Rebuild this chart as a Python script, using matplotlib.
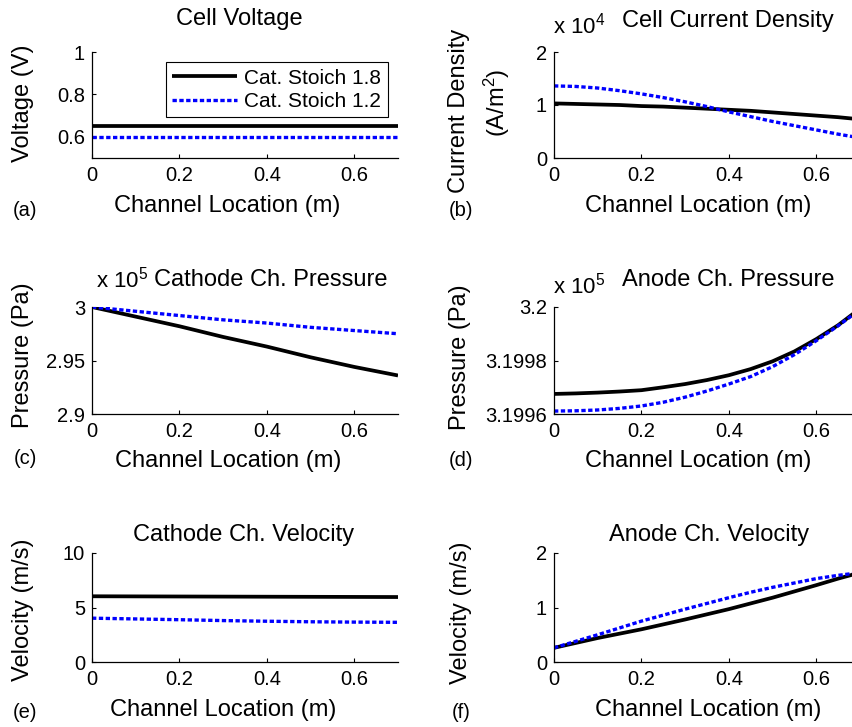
"""Six-panel channel profiles for two cathode stoichiometries."""

import matplotlib.pyplot as plt

plt.rcParams["font.family"] = ["Liberation Sans", "DejaVu Sans"]
plt.rcParams["mathtext.fontset"] = "custom"
plt.rcParams["mathtext.rm"] = "Liberation Sans"
plt.rcParams["mathtext.it"] = "Liberation Sans:italic"

FIG_W, FIG_H = 852, 727

SERIES_LABELS = ["Cat. Stoich 1.8", "Cat. Stoich 1.2"]

X_COARSE = [0.0, 0.1, 0.2, 0.3, 0.4, 0.5, 0.6, 0.7]
X_FINE = [0.0, 0.05, 0.1, 0.15, 0.2, 0.25, 0.3, 0.35, 0.4, 0.45, 0.5, 0.55, 0.6, 0.65, 0.7]

# cell voltage (V)
VOLT_18 = [0.65, 0.65, 0.65, 0.65, 0.65, 0.65, 0.65, 0.65]
VOLT_12 = [0.60, 0.60, 0.60, 0.60, 0.60, 0.60, 0.60, 0.60]

# current density (x 1e4 A/m^2)
CURR_18 = [1.03, 1.02, 1.01, 1.00, 0.98, 0.97, 0.95, 0.93, 0.91, 0.89, 0.86, 0.83, 0.80, 0.77, 0.73]
CURR_12 = [1.36, 1.35, 1.32, 1.27, 1.21, 1.14, 1.06, 0.97, 0.87, 0.78, 0.69, 0.61, 0.53, 0.45, 0.38]

# cathode channel pressure (x 1e5 Pa)
CPRES_18 = [3.000, 2.991, 2.982, 2.972, 2.963, 2.953, 2.944, 2.936]
CPRES_12 = [3.000, 2.996, 2.992, 2.988, 2.985, 2.981, 2.978, 2.975]

# anode channel pressure (x 1e5 Pa)
APRES_18 = [3.199675, 3.199677, 3.19968, 3.199684, 3.199689, 3.1997, 3.199712, 3.199727,
            3.199745, 3.199768, 3.199797, 3.199834, 3.19988, 3.199932, 3.199994]
APRES_12 = [3.199611, 3.199612, 3.199615, 3.199621, 3.19963, 3.199644, 3.199663, 3.199686,
            3.199712, 3.19974, 3.199777, 3.199822, 3.199874, 3.19993, 3.19999]

# cathode channel velocity (m/s)
CVEL_18 = [6.03, 6.02, 6.01, 6.00, 5.99, 5.98, 5.97, 5.96]
CVEL_12 = [4.02, 3.95, 3.88, 3.80, 3.74, 3.69, 3.66, 3.64]

# anode channel velocity (m/s)
AVEL_18 = [0.26, 0.35, 0.44, 0.52, 0.60, 0.69, 0.78, 0.875, 0.97, 1.075, 1.18, 1.295,
           1.41, 1.53, 1.64]
AVEL_12 = [0.26, 0.38, 0.50, 0.625, 0.75, 0.86, 0.97, 1.075, 1.18, 1.28, 1.37, 1.45,
           1.53, 1.59, 1.64]

X_TICKS = [0, 0.2, 0.4, 0.6]
X_TICK_LABELS = ["0", "0.2", "0.4", "0.6"]

BLACK_STYLE = dict(color="black", linewidth=2.7, solid_capstyle="butt")
BLUE_STYLE = dict(color="#0000ff", linewidth=2.4, linestyle=(0, (1.3, 0.75)),
                  dash_capstyle="butt")

LABEL_SIZE = 17
TITLE_SIZE = 17
TICK_SIZE = 14.5


def fx(px):
    return px / FIG_W


def fy(py):
    return 1 - py / FIG_H


def axes_rect(left, top, right, bottom):
    return [fx(left), fy(bottom), (right - left) / FIG_W, (bottom - top) / FIG_H]


def style_axes(ax, ylim, yticks, ytick_labels):
    ax.set_xlim(0, 0.7)
    ax.set_ylim(*ylim)
    ax.set_xticks(X_TICKS)
    ax.set_xticklabels(X_TICK_LABELS)
    ax.set_yticks(yticks)
    ax.set_yticklabels(ytick_labels)
    ax.spines["top"].set_visible(False)
    ax.spines["right"].set_visible(False)
    for side in ("left", "bottom"):
        ax.spines[side].set_linewidth(0.9)
    ax.tick_params(direction="in", length=3, width=0.8, labelsize=TICK_SIZE)
    ax.tick_params(axis="x", pad=6)
    ax.tick_params(axis="y", pad=5)


def put_text(fig, x, y, s, **kw):
    kw.setdefault("fontsize", LABEL_SIZE)
    kw.setdefault("ha", "center")
    kw.setdefault("va", "center")
    fig.text(fx(x), fy(y), s, **kw)


fig = plt.figure(figsize=(FIG_W / 100, FIG_H / 100), dpi=100)

LEFT_COL = (92, 398)
RIGHT_COL = (554, 860)
ROWS = [(52, 158), (307, 414), (553, 662)]

# (a) cell voltage
ax_a = fig.add_axes(axes_rect(LEFT_COL[0], ROWS[0][0], LEFT_COL[1], ROWS[0][1]))
ax_a.plot(X_COARSE, VOLT_18, label=SERIES_LABELS[0], **BLACK_STYLE)
ax_a.plot(X_COARSE, VOLT_12, label=SERIES_LABELS[1], **BLUE_STYLE)
style_axes(ax_a, (0.5, 1.0), [0.6, 0.8, 1.0], ["0.6", "0.8", "1"])
leg = ax_a.legend(loc="upper right", fancybox=False, framealpha=1,
                  edgecolor="black", fontsize=15, handlelength=3.1,
                  borderaxespad=0.5, labelspacing=0.2, borderpad=0.3,
                  handletextpad=0.35)
leg.get_frame().set_linewidth(0.8)

# (b) current density
ax_b = fig.add_axes(axes_rect(RIGHT_COL[0], ROWS[0][0], RIGHT_COL[1], ROWS[0][1]))
ax_b.plot(X_FINE, CURR_18, **BLACK_STYLE)
ax_b.plot(X_FINE, CURR_12, **BLUE_STYLE)
style_axes(ax_b, (0, 2), [0, 1, 2], ["0", "1", "2"])

# (c) cathode channel pressure
ax_c = fig.add_axes(axes_rect(LEFT_COL[0], ROWS[1][0], LEFT_COL[1], ROWS[1][1]))
ax_c.plot(X_COARSE, CPRES_18, **BLACK_STYLE)
ax_c.plot(X_COARSE, CPRES_12, **BLUE_STYLE)
style_axes(ax_c, (2.9, 3.0), [2.9, 2.95, 3.0], ["2.9", "2.95", "3"])

# (d) anode channel pressure
ax_d = fig.add_axes(axes_rect(RIGHT_COL[0], ROWS[1][0], RIGHT_COL[1], ROWS[1][1]))
ax_d.plot(X_FINE, APRES_18, **BLACK_STYLE)
ax_d.plot(X_FINE, APRES_12, **BLUE_STYLE)
style_axes(ax_d, (3.1996, 3.2), [3.1996, 3.1998, 3.2], ["3.1996", "3.1998", "3.2"])

# (e) cathode channel velocity
ax_e = fig.add_axes(axes_rect(LEFT_COL[0], ROWS[2][0], LEFT_COL[1], ROWS[2][1]))
ax_e.plot(X_COARSE, CVEL_18, **BLACK_STYLE)
ax_e.plot(X_COARSE, CVEL_12, **BLUE_STYLE)
style_axes(ax_e, (0, 10), [0, 5, 10], ["0", "5", "10"])

# (f) anode channel velocity
ax_f = fig.add_axes(axes_rect(RIGHT_COL[0], ROWS[2][0], RIGHT_COL[1], ROWS[2][1]))
ax_f.plot(X_FINE, AVEL_18, **BLACK_STYLE)
ax_f.plot(X_FINE, AVEL_12, **BLUE_STYLE)
style_axes(ax_f, (0, 2), [0, 1, 2], ["0", "1", "2"])

# titles
put_text(fig, 239, 19, "Cell Voltage", fontsize=TITLE_SIZE)
put_text(fig, 728, 21, "Cell Current Density", fontsize=TITLE_SIZE)
put_text(fig, 271, 280, "Cathode Ch. Pressure", fontsize=TITLE_SIZE)
put_text(fig, 728, 280, "Anode Ch. Pressure", fontsize=TITLE_SIZE)
put_text(fig, 244, 535, "Cathode Ch. Velocity", fontsize=TITLE_SIZE)
put_text(fig, 709, 535, "Anode Ch. Velocity", fontsize=TITLE_SIZE)

# axis multipliers
put_text(fig, 553, 26, r"x 10$^{4}$", ha="left", fontsize=16)
put_text(fig, 96, 280, r"x 10$^{5}$", ha="left", fontsize=16)
put_text(fig, 553, 286, r"x 10$^{5}$", ha="left", fontsize=16)

# x labels
for xc, yc in [(227, 206), (698, 206), (228, 461), (698, 461), (223, 710), (708, 710)]:
    put_text(fig, xc, yc, "Channel Location (m)")

# y labels
put_text(fig, 23, 103, "Voltage (V)", rotation=90)
put_text(fig, 459, 111, "Current Density", rotation=90)
put_text(fig, 497, 103, r"(A/m$^{2}$)", rotation=90)
put_text(fig, 23, 355, "Pressure (Pa)", rotation=90)
put_text(fig, 460, 357, "Pressure (Pa)", rotation=90)
put_text(fig, 23, 610, "Velocity (m/s)", rotation=90)
put_text(fig, 461, 613, "Velocity (m/s)", rotation=90)

# panel tags
for xc, yc, tag in [(25, 210, "(a)"), (461, 210, "(b)"), (25, 458, "(c)"),
                    (461, 460, "(d)"), (25, 712, "(e)"), (461, 712, "(f)")]:
    put_text(fig, xc, yc, tag, fontsize=TICK_SIZE)

fig.savefig("out.png", dpi=100)
